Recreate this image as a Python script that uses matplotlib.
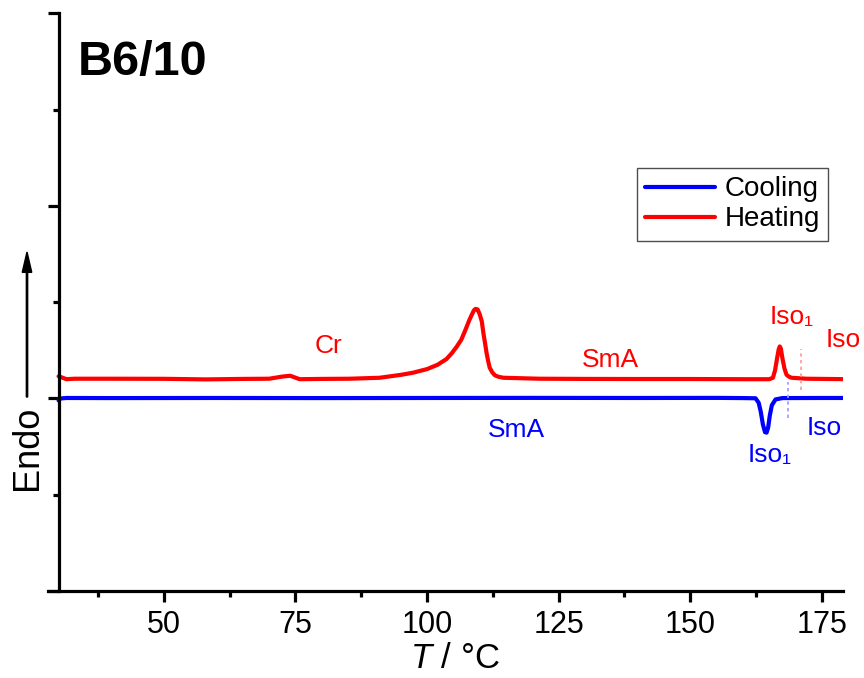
import matplotlib.pyplot as plt
from matplotlib.ticker import MultipleLocator
from matplotlib.patches import FancyArrow

plt.rcParams['font.family'] = ['Liberation Sans', 'DejaVu Sans']
plt.rcParams['mathtext.fontset'] = 'custom'
plt.rcParams['mathtext.it'] = 'Liberation Sans:italic'
plt.rcParams['mathtext.rm'] = 'Liberation Sans'

# DSC traces (temperature in degC, heat flow in arbitrary units, endo up)
heat_T = [30.0, 30.3, 31.5, 33, 40, 50, 58, 65, 70, 72.6, 74, 75.8, 80, 85.3, 91,
          95, 97.3, 100, 102, 103.7, 104.7, 105.6, 106.5, 107.2, 108.0, 108.5, 108.9,
          109.2, 109.6, 110.0, 110.4, 110.7, 111.0, 111.3, 111.6, 111.9, 112.4,
          112.9, 113.6, 114.5, 121.4, 130, 140, 150, 160, 165, 165.7, 166.1,
          166.5, 166.8, 167.0, 167.2, 167.5, 167.9, 168.3, 168.8, 169.25, 172, 180]
heat_q = [0.23, 0.225, 0.20, 0.205, 0.205, 0.204, 0.198, 0.203, 0.205, 0.228, 0.236,
          0.20, 0.203, 0.205, 0.215, 0.245, 0.267, 0.305, 0.35, 0.41, 0.47, 0.535, 0.61,
          0.70, 0.81, 0.87, 0.915, 0.93, 0.925, 0.875, 0.80, 0.68, 0.58, 0.475,
          0.39, 0.32, 0.27, 0.24, 0.225, 0.215, 0.205, 0.203, 0.202, 0.202, 0.2,
          0.2, 0.215, 0.29, 0.42, 0.51, 0.54, 0.52, 0.42, 0.31, 0.245, 0.225,
          0.215, 0.205, 0.2]

cool_T = [30.0, 30.4, 31.5, 40, 60, 80, 100, 120, 140, 155, 160, 162.4, 163.0,
          163.4, 163.8, 164.2, 164.5, 164.8, 165.1, 165.5, 166.2, 167.5, 175, 180]
cool_q = [-0.02, 0.0, 0.005, 0.004, 0.005, 0.004, 0.005, 0.006, 0.005, 0.006, 0.004,
          0.002, -0.045, -0.14, -0.27, -0.35, -0.355, -0.3, -0.18, -0.07,
          -0.01, 0.004, 0.005, 0.005]

# phase labels: (text, T, heat flow, colour)
labels = [('Cr', 78.7, 0.47, 'red'),
          ('SmA', 129.4, 0.33, 'red'),
          ('Iso\u2081', 165.1, 0.77, 'red'),
          ('Iso', 175.8, 0.53, 'red'),
          ('SmA', 111.6, -0.405, 'blue'),
          ('Iso\u2081', 160.9, -0.655, 'blue'),
          ('Iso', 172.1, -0.375, 'blue')]

fig = plt.figure(figsize=(8.64, 6.78), dpi=100)
ax = fig.add_axes([0.0556, 0.1283, 0.920, 0.852])

ax.plot(cool_T, cool_q, color='blue', lw=3, label='Cooling', solid_capstyle='round',
        solid_joinstyle='round')
ax.plot(heat_T, heat_q, color='red', lw=3, label='Heating', solid_capstyle='round',
        solid_joinstyle='round')

# transition markers
ax.plot([171.0, 171.0], [0.09, 0.51], color='#ff9a9a', lw=1.2, ls=(0, (2, 2)))
ax.plot([168.5, 168.5], [-0.2, 0.17], color='#9a9aff', lw=1.2, ls=(0, (2, 2)))

for txt, t, q, c in labels:
    ax.text(t, q, txt, color=c, fontsize=19, ha='left', va='baseline', clip_on=False)

ax.set_xlim(28, 179)
ax.set_ylim(-2, 4)
ax.spines['left'].set_position(('data', 30))
ax.spines['top'].set_visible(False)
ax.spines['right'].set_visible(False)
for s in ('left', 'bottom'):
    ax.spines[s].set_linewidth(2.3)

ax.set_xticks([50, 75, 100, 125, 150, 175])
ax.xaxis.set_minor_locator(MultipleLocator(12.5))
ax.yaxis.set_major_locator(MultipleLocator(2))
ax.yaxis.set_minor_locator(MultipleLocator(1))
ax.tick_params(which='major', length=8, width=2.3, labelsize=22, pad=6)
ax.tick_params(which='minor', length=4, width=2.3)
ax.tick_params(axis='y', labelleft=False)

ax.set_xlabel('$T$ / \u00b0C', fontsize=25, labelpad=0)
ax.xaxis.set_label_coords(0.512, -0.088)

leg = ax.legend(loc='upper right', bbox_to_anchor=(828 / 864, 1 - 168 / 678),
                bbox_transform=fig.transFigure, fontsize=20, frameon=True,
                fancybox=False, handlelength=2.5, handletextpad=0.35,
                labelspacing=0.15, borderpad=0.3, borderaxespad=0)
leg.get_frame().set_edgecolor('#222222')
leg.get_frame().set_linewidth(1.0)

fig.text(78 / 864, 1 - 75 / 678, 'B6/10', fontsize=35, fontweight='bold',
         ha='left', va='baseline')

# endotherm direction
fig.text(27 / 864, 1 - 447.5 / 678, 'Endo', fontsize=26, rotation=90,
         ha='center', va='center')
fig.patches.append(FancyArrow(
    27 / 864, 1 - 397 / 678, 0, (397 - 252) / 678, width=0.0015,
    head_width=0.011, head_length=0.03, length_includes_head=True,
    color='black', transform=fig.transFigure, figure=fig))

fig.savefig('out.png', dpi=100)
